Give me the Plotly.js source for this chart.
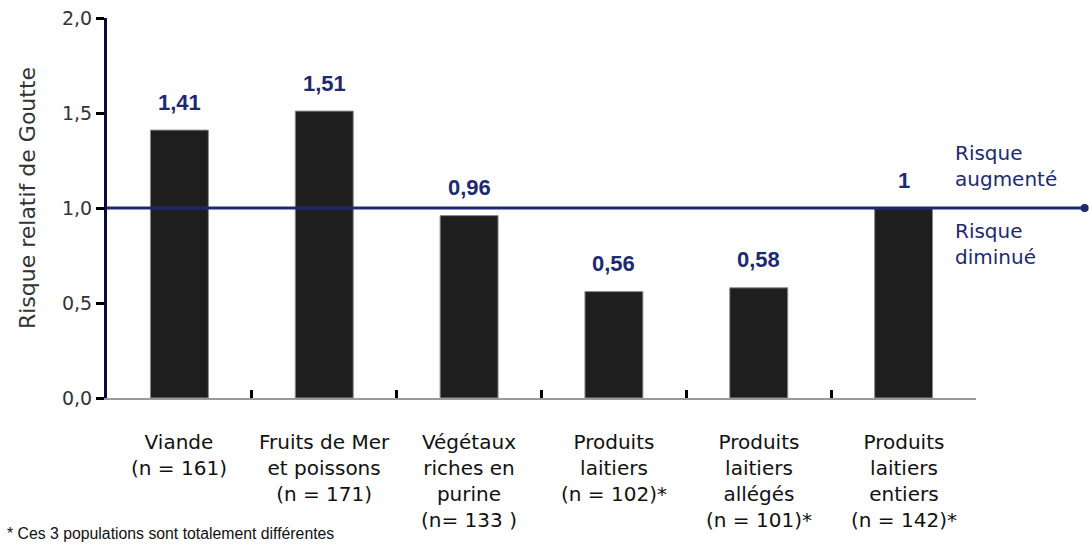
<!DOCTYPE html>
<html>
<head>
<meta charset="utf-8">
<script src="https://cdn.plot.ly/plotly-3.0.1.min.js"></script>
<style>
  html, body { margin: 0; padding: 0; background: #ffffff; }
  #chart { width: 1090px; height: 545px; }
</style>
</head>
<body>
<div id="chart"></div>
<script>
// ---- Data ----
var categories = ["Viande", "Fruits de Mer", "Végétaux", "Produits laitiers", "Produits laitiers allégés", "Produits laitiers entiers"];
var categoryLabels = [
  "Viande<br>(n = 161)",
  "Fruits de Mer<br>et poissons<br>(n = 171)",
  "Végétaux<br>riches en<br>purine<br>(n= 133 )",
  "Produits<br>laitiers<br>(n = 102)*",
  "Produits<br>laitiers<br>allégés<br>(n = 101)*",
  "Produits<br>laitiers<br>entiers<br>(n = 142)*"
];
var relativeRisk = [1.41, 1.51, 0.96, 0.56, 0.58, 1];
var referenceLevel = 1;
var yTickValues = [0, 0.5, 1, 1.5, 2];
var yTickLabels = ["0,0", "0,5", "1,0", "1,5", "2,0"];
var yTitle = "Risque relatif de Goutte";
var aboveLabel = "Risque<br>augmenté";
var belowLabel = "Risque<br>diminué";
var footnote = "* Ces 3 populations sont totalement différentes";

// ---- Styles ----
var navy = "#1c2a72";
var textFont = "DejaVu Sans, Liberation Sans, Arial, sans-serif";
var arialFont = "Liberation Sans, Arial, sans-serif";

function fmt(v) { return String(v).replace(".", ","); }

var annotations = [];

// value labels and category labels
categories.forEach(function (c, i) {
  annotations.push({
    x: c, y: relativeRisk[i], xref: "x", yref: "y",
    text: "<b>" + fmt(relativeRisk[i]) + "</b>",
    showarrow: false, xanchor: "center", yanchor: "middle", yshift: 28,
    font: { family: arialFont, size: 22, color: navy }
  });
  annotations.push({
    x: c, y: 0, xref: "x", yref: "paper",
    text: categoryLabels[i],
    showarrow: false, xanchor: "center", yanchor: "top", yshift: -30,
    font: { family: textFont, size: 20, color: "#111111" }
  });
});

// side labels
annotations.push({
  x: 1, y: referenceLevel, xref: "paper", yref: "y", xanchor: "left", xshift: -23,
  yanchor: "middle", yshift: 42, align: "left", showarrow: false,
  text: aboveLabel, font: { family: textFont, size: 20, color: navy }
});
annotations.push({
  x: 1, y: referenceLevel, xref: "paper", yref: "y", xanchor: "left", xshift: -23,
  yanchor: "middle", yshift: -36, align: "left", showarrow: false,
  text: belowLabel, font: { family: textFont, size: 20, color: navy }
});

// y title
annotations.push({
  x: 0, y: 0.526, xref: "paper", yref: "paper", xshift: -80,
  xanchor: "center", yanchor: "middle", textangle: -90, showarrow: false,
  text: yTitle, font: { family: textFont, size: 22, color: "#333333" }
});

// footnote
annotations.push({
  x: 0, y: 0, xref: "paper", yref: "paper", xshift: -102, yshift: -125,
  xanchor: "left", yanchor: "top", showarrow: false,
  text: footnote, font: { family: arialFont, size: 15.8, color: "#111111" }
});

var trace = {
  type: "bar",
  x: categories,
  y: relativeRisk,
  marker: { color: "#1e1e1e", line: { color: "#8a8a8a", width: 1 } },
  hoverinfo: "skip"
};

var layout = {
  width: 1090, height: 545,
  margin: { l: 107, r: 114, t: 18, b: 147 },
  paper_bgcolor: "#ffffff", plot_bgcolor: "#ffffff",
  showlegend: false,
  bargap: 0.6,
  xaxis: {
    type: "category",
    showticklabels: false,
    ticks: "inside", tickson: "boundaries", ticklen: 8, tickwidth: 3, tickcolor: "#000000",
    showline: true, linecolor: "#9a9a9a", linewidth: 2,
    showgrid: false, zeroline: false
  },
  yaxis: {
    range: [0, 2],
    tickvals: yTickValues, ticktext: yTickLabels,
    ticks: "outside", ticklen: 8, tickwidth: 3, tickcolor: "#000000",
    tickfont: { family: textFont, size: 19, color: "#333333" },
    showline: true, linecolor: "#0b0b3b", linewidth: 3,
    showgrid: false, zeroline: false
  },
  shapes: [
    { type: "line", xref: "paper", yref: "y", x0: 0, x1: 1.125, y0: referenceLevel, y1: referenceLevel,
      line: { color: navy, width: 3 } },
    { type: "circle", xref: "paper", yref: "y", xsizemode: "pixel", ysizemode: "pixel",
      xanchor: 1.125, yanchor: referenceLevel, x0: -4, x1: 4, y0: -4, y1: 4,
      fillcolor: navy, line: { color: navy, width: 0 } }
  ],
  annotations: annotations
};

Plotly.newPlot("chart", [trace], layout, { displayModeBar: false, staticPlot: true });
</script>
</body>
</html>
